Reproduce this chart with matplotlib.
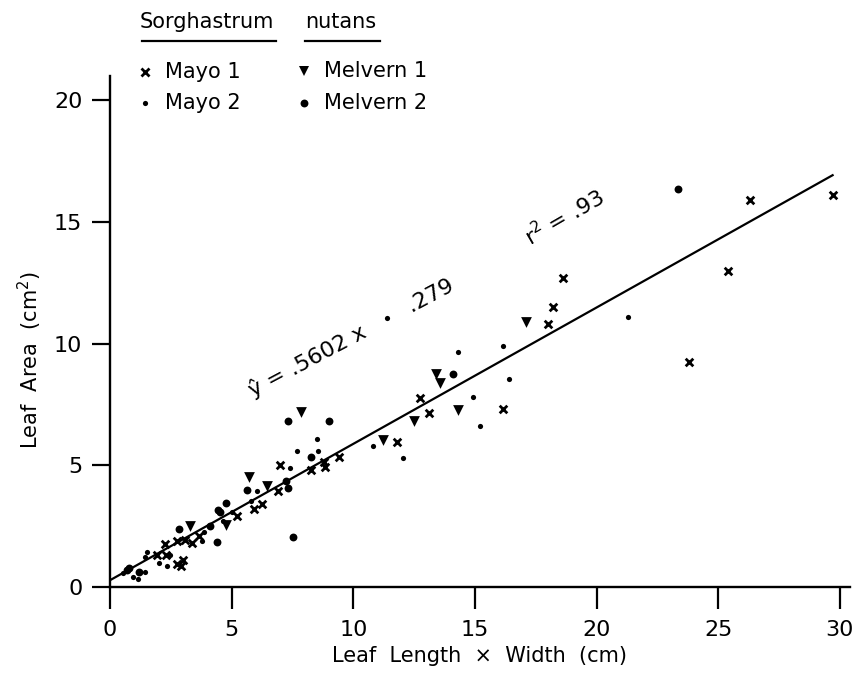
import matplotlib
matplotlib.use("Agg")
import numpy as np
import matplotlib.pyplot as plt

# Sorghastrum nutans leaf area vs length x width
mayo1_x = [2.25, 1.95, 2.3, 2.75, 3.1, 3.35, 3.65, 2.75, 2.9, 3.0, 5.2, 5.9, 6.25, 6.9,
           7.0, 8.25, 8.8, 8.85, 9.4, 11.8, 12.75, 13.1, 16.15, 18.0, 18.2, 18.6,
           23.8, 25.4, 26.3, 29.7]
mayo1_y = [1.75, 1.3, 1.3, 1.9, 1.95, 1.8, 2.1, 0.95, 0.85, 1.1, 2.9, 3.2, 3.4, 3.95,
           5.0, 4.8, 5.15, 4.95, 5.35, 5.95, 7.75, 7.15, 7.3, 10.8, 11.5, 12.7,
           9.25, 13.0, 15.9, 16.1]

mayo2_x = [11.4, 14.3, 16.15, 16.4, 14.9, 15.2, 10.8, 12.05, 21.3, 8.5, 7.7, 8.55, 7.4,
           6.05, 5.8, 5.0, 4.65, 1.5, 1.45, 2.0, 2.35, 3.8, 3.85, 2.45, 0.55, 0.95,
           1.15, 1.45]
mayo2_y = [11.05, 9.65, 9.9, 8.55, 7.8, 6.6, 5.8, 5.3, 11.1, 6.1, 5.6, 5.6, 4.9,
           3.95, 3.55, 3.1, 2.7, 1.45, 1.25, 1.0, 0.85, 1.9, 2.25, 1.3, 0.58, 0.4,
           0.33, 0.62]

melv1_x = [3.3, 4.75, 5.7, 6.45, 7.85, 11.2, 12.5, 13.4, 13.55, 14.3, 17.1]
melv1_y = [2.5, 2.55, 4.5, 4.15, 7.2, 6.05, 6.8, 8.75, 8.4, 7.27, 10.9]

melv2_x = [23.35, 7.3, 9.0, 8.25, 14.1, 7.25, 7.3, 7.5, 5.65, 4.5, 4.1, 2.85, 4.4,
           4.45, 4.75, 0.7, 0.8, 1.2]
melv2_y = [16.35, 6.8, 6.8, 5.35, 8.75, 4.35, 4.05, 2.05, 4.0, 3.1, 2.5, 2.4, 1.85,
           3.15, 3.45, 0.7, 0.8, 0.6]

slope = 0.5602
intercept = 0.279
fit_x = [0, 29.7]

plt.rcParams['font.family'] = 'DejaVu Sans'

fig = plt.figure(figsize=(8.61, 6.88), dpi=100)
ax = fig.add_axes([0.1278, 0.1468, 0.859, 0.743])

styles = {
    'mayo1': dict(marker='x', s=30, linewidths=2.0, color='black'),
    'mayo2': dict(marker='o', s=14, linewidths=0, color='black'),
    'melv1': dict(marker='v', s=60, linewidths=0, color='black'),
    'melv2': dict(marker='o', s=32, linewidths=0, color='black'),
}

ax.scatter(mayo1_x, mayo1_y, **styles['mayo1'])
ax.scatter(mayo2_x, mayo2_y, **styles['mayo2'])
ax.scatter(melv1_x, melv1_y, **styles['melv1'])
ax.scatter(melv2_x, melv2_y, **styles['melv2'])

fx = np.array(fit_x)
ax.plot(fx, slope * fx + intercept, color='black', lw=1.6)

ax.set_xlim(0, 30.4)
ax.set_ylim(0, 21.0)
ax.set_xticks([0, 5, 10, 15, 20, 25, 30])
ax.set_yticks([0, 5, 10, 15, 20])
for s in ['top', 'right']:
    ax.spines[s].set_visible(False)
for s in ['left', 'bottom']:
    ax.spines[s].set_linewidth(1.7)
ax.tick_params(axis='x', direction='out', length=16, width=1.6, pad=8, labelsize=16)
ax.tick_params(axis='y', direction='out', length=13, width=1.6, pad=7, labelsize=16)

ax.set_xlabel('Leaf  Length  \u00d7  Width  (cm)', fontsize=15, labelpad=4)
fig.text(30 / 861, 1 - 360 / 688, 'Leaf  Area  (cm$^2$)', rotation=90,
         fontsize=15, ha='center', va='center')

# annotations on the fit line
ax.text(5.9, 7.8, '\u0177 = .5602 x       .279', rotation=28, rotation_mode='anchor',
        fontsize=16, ha='left', va='baseline')
ax.text(17.3, 14.0, 'r$^2$ = .93', rotation=30, rotation_mode='anchor',
        fontsize=16, ha='left', va='baseline')

# hand-made legend above the plot
def fx_(px):
    return px / 861

def fy_(py):
    return 1 - py / 688

fig.text(fx_(140), fy_(22), 'Sorghastrum', fontsize=15, ha='left', va='center')
fig.text(fx_(305), fy_(22), 'nutans', fontsize=15, ha='left', va='center')
fig.add_artist(plt.Line2D([fx_(142), fx_(276)], [fy_(41), fy_(41)], color='black', lw=1.6))
fig.add_artist(plt.Line2D([fx_(305), fx_(380)], [fy_(41), fy_(41)], color='black', lw=1.6))

legend_rows = [
    ('mayo1', 'Mayo 1', 145, 72),
    ('mayo2', 'Mayo 2', 145, 103),
    ('melv1', 'Melvern 1', 304, 71),
    ('melv2', 'Melvern 2', 304, 103),
]
for key, label, px, py in legend_rows:
    st = dict(styles[key])
    fig.add_artist(plt.Line2D([fx_(px)], [fy_(py)], linestyle='none',
                              marker=st['marker'], color='black',
                              markersize=np.sqrt(st['s']),
                              markeredgewidth=st['linewidths'] if st['linewidths'] else 0))
    fig.text(fx_(px + 20), fy_(py), label, fontsize=15, ha='left', va='center')

fig.savefig('out.png', dpi=100)
